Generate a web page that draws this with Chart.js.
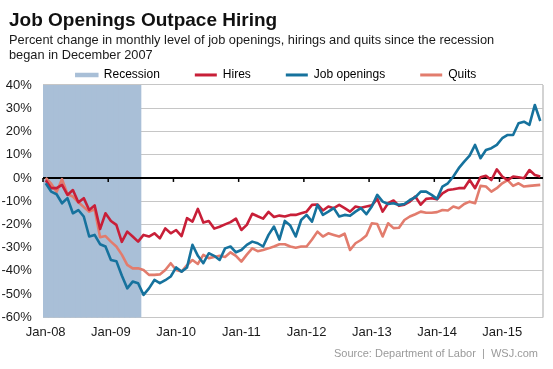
<!DOCTYPE html>
<html>
<head>
<meta charset="utf-8">
<title>Job Openings Outpace Hiring</title>
<script src="https://cdn.jsdelivr.net/npm/chart.js@4.4.1/dist/chart.umd.min.js"></script>
<style>
  html, body { margin: 0; padding: 0; background: #fff; }
  #wrap { width: 553px; height: 369px; position: relative; }
</style>
</head>
<body>
<div id="wrap"><canvas id="jolts"></canvas></div>
<script>
// Percent change in monthly level since Dec 2007, Jan 2008 - Aug 2015
const monthNames = ['Jan', 'Feb', 'Mar', 'Apr', 'May', 'Jun', 'Jul', 'Aug', 'Sep', 'Oct', 'Nov', 'Dec'];
const years = ['08', '09', '10', '11', '12', '13', '14', '15'];
const lastMonth = 'Aug-15';

const months = [];
years.forEach(yy => monthNames.forEach(m => months.push(m + '-' + yy)));
months.length = months.indexOf(lastMonth) + 1;

const recessionSpan = ['Jan-08', 'Jun-09'];

const yMin = -60;
const yMax = 40;
const yStep = 10;

const hires = [
    -1, -4.4, -4.4, -3, -7.3, -5.2, -10.5, -8.7, -13.8, -11.8,
    -22, -15.2, -18.5, -20.2, -27.5, -23.1, -25.2, -27.4, -24.5, -25.2,
    -23.8, -26, -21.7, -23.8, -22.4, -25, -17.3, -18.8, -13.3, -19.2,
    -18.5, -21.8, -21, -20, -19, -17.5, -22.4, -20.2, -15.4, -16.5,
    -17.5, -14.6, -16.8, -16.2, -16.6, -15.9, -15.9, -15.2, -14.5, -11.6,
    -11.4, -14, -12.3, -13, -11.6, -13, -14.5, -12.3, -12.8, -12.3,
    -11.8, -9, -14.5, -10.9, -9.7, -12, -11.5, -10.2, -8, -11.5,
    -9, -8.7, -9.2, -6.6, -5.2, -4.9, -4.4, -4.4, -0.9, -4.4,
    0.3, 0.9, -0.9, 3.7, 0.6, -0.9, 0.6, 0.3, -0.1, 3.4,
    1.3, 0.6
];

const openings = [
    -2.3, -5.9, -7, -10.9, -8.7, -15.2, -13.8, -16.6, -25.2, -24.5,
    -28.5, -29.5, -35.3, -35.8, -42, -47.5, -44.6, -45.3, -50.3, -47.5,
    -43.9, -45.3, -44, -42.4, -38.5, -40.3, -38.5, -28.8, -33.5, -36.7,
    -32.4, -33.5, -35.3, -30.3, -29.5, -32, -31, -28.8, -27.4, -28.1,
    -29.5, -24.5, -20.9, -26.5, -18.5, -20.5, -25.2, -18.1, -15.9, -18.8,
    -11.6, -15.9, -14.5, -13, -16.6, -15.9, -16.3, -14.5, -13, -15.6,
    -12.3, -7.3, -10.2, -11.2, -10.9, -11.6, -11.2, -9.5, -8.3, -5.9,
    -5.9, -7.3, -9, -3.7, -2.3, 0.6, 4.2, 7, 9.6, 14.2,
    8.5, 12, 12.8, 14.2, 17.1, 18.5, 18.5, 23.5, 24.2, 22.8,
    31.4, 24.5
];

const quits = [
    0, -2.5, -6, -0.5, -7, -8, -10.5, -12.5, -14.5, -13.5,
    -25.5, -25, -27.4, -29.5, -33, -37.4, -38.9, -38.9, -39.6, -41.7,
    -41.7, -41.5, -39.6, -36.7, -39.6, -40.3, -37.5, -35.3, -37, -33.1,
    -34.5, -34, -33.5, -34, -32, -33.5, -36, -33, -30.3, -31.5,
    -31, -30.3, -29.5, -28.5, -28.5, -29.5, -30, -29.5, -29.5, -26.5,
    -23.1, -25.2, -23.8, -24.5, -25.2, -24, -31, -28.1, -26.7, -24.8,
    -19.5, -19.8, -25.2, -19.5, -21.6, -21.4, -18.1, -16.6, -15.6, -14.5,
    -15, -15, -14.7, -13.8, -14, -12.3, -13, -11.2, -10.2, -10.9,
    -3.4, -3.7, -5.9, -4.4, -2.3, -0.9, -3.4, -2.3, -3.7, -3.4,
    -3.2, -3
];

const FONT = '"Liberation Sans", Arial, Helvetica, sans-serif';
Chart.defaults.font.family = FONT;
Chart.defaults.color = '#1a1a1a';

const recStart = months.indexOf(recessionSpan[0]);
const recEnd = months.indexOf(recessionSpan[1]);
const recession = months.map((m, i) => (i >= recStart && i <= recEnd ? [yMin, yMax] : null));

// zero line, Jan tick marks and right frame go on top of the recession band
const axisMarks = {
    id: 'axisMarks',
    afterDatasetDraw(chart, args) {
        if (args.meta.type !== 'bar') return;
        const { ctx, chartArea, scales: { x, y } } = chart;
        const zero = y.getPixelForValue(0);
        const half = (x.getPixelForValue(1) - x.getPixelForValue(0)) / 2;

        ctx.save();
        ctx.strokeStyle = '#c4c4c4';
        ctx.lineWidth = 1.5;
        ctx.beginPath();
        ctx.moveTo(chartArea.right, chartArea.top);
        ctx.lineTo(chartArea.right, chartArea.bottom);
        ctx.stroke();

        ctx.strokeStyle = '#000';
        ctx.lineWidth = 2;
        ctx.beginPath();
        ctx.moveTo(chartArea.left, zero);
        ctx.lineTo(chartArea.right, zero);
        ctx.stroke();

        ctx.lineWidth = 1.5;
        months.forEach((m, i) => {
            if (!m.startsWith('Jan')) return;
            const px = x.getPixelForValue(i) - half;
            ctx.beginPath();
            ctx.moveTo(px, zero);
            ctx.lineTo(px, zero + 4);
            ctx.stroke();
        });
        ctx.restore();
    },
    afterDraw(chart) {
        const { ctx, chartArea } = chart;
        ctx.save();
        ctx.font = '11px ' + FONT;
        ctx.fillStyle = '#9a9a9a';
        ctx.textAlign = 'right';
        ctx.textBaseline = 'alphabetic';
        ctx.fillText('Source: Department of Labor  |  WSJ.com', chartArea.right - 5, chart.height - 12);
        ctx.restore();
    }
};

new Chart(document.getElementById('jolts'), {
    type: 'line',
    data: {
        labels: months,
        datasets: [
            {
                type: 'bar',
                label: 'Recession',
                data: recession,
                backgroundColor: '#a9bfd7',
                legendColor: '#a9bfd7',
                borderWidth: 0,
                barPercentage: 1,
                categoryPercentage: 1,
                inflateAmount: 0.5,
                order: 4
            },
            {
                label: 'Hires',
                data: hires,
                borderColor: '#c81f38',
                legendColor: '#c81f38',
                order: 2
            },
            {
                label: 'Job openings',
                data: openings,
                borderColor: '#16729d',
                legendColor: '#16729d',
                order: 1
            },
            {
                label: 'Quits',
                data: quits,
                borderColor: '#e27c6d',
                legendColor: '#e27c6d',
                order: 3
            }
        ]
    },
    options: {
        responsive: true,
        maintainAspectRatio: false,
        animation: false,
        events: [],
        layout: {
            padding: { top: 0, left: 9, right: 10, bottom: 22 }
        },
        elements: {
            line: { borderWidth: 2.6, tension: 0, borderJoinStyle: 'round', fill: false },
            point: { radius: 0 }
        },
        scales: {
            x: {
                offset: true,
                grid: { display: false, drawTicks: false },
                border: { display: false },
                ticks: {
                    autoSkip: false,
                    maxRotation: 0,
                    padding: 7,
                    font: { size: 13 },
                    color: '#1a1a1a',
                    callback: (v, i) => (months[i].startsWith('Jan') ? months[i] : null)
                }
            },
            y: {
                min: yMin,
                max: yMax,
                border: { display: false },
                grid: {
                    drawTicks: false,
                    lineWidth: 1,
                    color: c => (c.tick && c.tick.value === 0 ? 'rgba(0,0,0,0)' : '#c6c6c6')
                },
                ticks: {
                    stepSize: yStep,
                    // mirrored labels are not clipped to the narrow axis box
                    mirror: true,
                    crossAlign: 'far',
                    padding: -41.5,
                    font: { size: 13 },
                    color: '#1a1a1a',
                    callback: v => v + '%'
                },
                afterFit: s => { s.width = 34; }
            }
        },
        plugins: {
            title: {
                display: true,
                text: 'Job Openings Outpace Hiring',
                align: 'start',
                color: '#111',
                font: { size: 19, weight: 'bold' },
                padding: { top: 9, bottom: 2 }
            },
            subtitle: {
                display: true,
                text: [
                    'Percent change in monthly level of job openings, hirings and quits since the recession',
                    'began in December 2007'
                ],
                align: 'start',
                color: '#1a1a1a',
                font: { size: 12.8, lineHeight: 1.12 },
                padding: { top: 0, bottom: -28.5 }
            },
            legend: {
                position: 'top',
                align: 'center',
                maxHeight: 51,
                labels: {
                    boxWidth: 22,
                    boxHeight: 3,
                    padding: 35,
                    font: { size: 12 },
                    color: '#1a1a1a',
                    generateLabels: chart => chart.data.datasets.map((ds, i) => ({
                        text: ds.label,
                        fillStyle: ds.legendColor,
                        strokeStyle: ds.legendColor,
                        lineWidth: ds.type === 'bar' ? 1.5 : 0,
                        hidden: false,
                        datasetIndex: i
                    }))
                }
            },
            tooltip: { enabled: false }
        }
    },
    plugins: [axisMarks]
});
</script>
</body>
</html>
